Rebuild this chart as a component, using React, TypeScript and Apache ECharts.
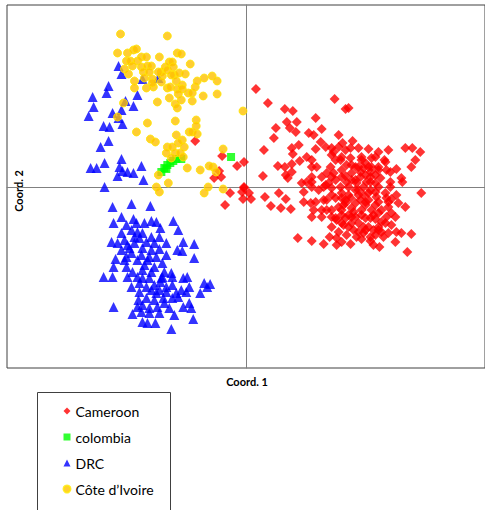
import React, { useEffect, useRef } from "react";
import * as echarts from "echarts";

// PCoA coordinates (arbitrary units, origin at the axes cross)
const seriesNames = ["Cameroon", "colombia", "DRC", "Côte d’Ivoire"];
const axisTitles = ["Coord. 1", "Coord. 2"];

const cameroon: number[][] = [
  [-51,46],[-24,31],[-9,21],[-2,25],[-27,16],[-25,10],[-32,9],[-2,0],[-16,-6],[-21,-18],
  [-2,-1],[3,-6],[-3,-12],[5,-12],[-4,-5],
  [10,98],[22,84],[39,78],[47,76],[41,65],[51,65],[44,59],[50,55],[30,59],[28,49],
  [18,37],[46,39],[53,42],[47,33],[54,26],[61,30],[66,27],[63,54],[68,52],[70,69],
  [32,21],[39,20],[40,12],[46,23],[46,15],[42,9],[17,11],[19,-10],[33,-6],[40,-12],
  [25,-19],[35,-21],[45,-22],[58,-5],[56,4],[61,5],[66,10],[58,-15],[65,-16],[66,-30],
  [52,-51],[66,-54],
  [89,88],[100,78],[103,79],[76,58],[93,52],[75,45],[97,44],[107,46],[70,38],[88,35],
  [113,39],[123,38],[133,35],[143,37],[160,39],[167,39],[175,35],[170,27],[166,20],[151,18],
  [156,9],[157,5],[176,-6],[139,27],[141,17],[135,9],[145,5],[86,32],[95,27],[105,29],
  [116,30],[126,29],[140,25],[66,20],[71,20],[66,5],[76,10],[83,4],[90,7],[96,10],
  [106,7],[115,10],[125,10],[133,0],[145,0],[151,-8],[160,-20],[153,-16],[68,-23],[78,-13],
  [86,-8],[96,-6],[103,-8],[113,-8],[123,-6],[131,-10],[141,-11],[100,-16],[110,-16],[120,-18],
  [130,-18],[143,-20],[76,-30],[86,-30],[96,-28],[106,-30],[116,-28],[125,-31],[141,-30],[146,-38],
  [86,-40],[96,-36],[103,-40],[113,-36],[123,-40],[133,-40],[136,-45],[151,-45],[156,-46],[166,-47],
  [101,-48],[111,-50],[125,-50],[130,-48],[118,-46],[78,-57],[91,-51],[91,-58],[105,-57],[134,-60],
  [162,-65],[125,-54],[143,-46],[66,0],[73,-3],[80,2],
  [103,0],[110,-3],[118,0],[125,-3],[95,0],[86,-1],[101,22],[110,20],[118,19],[126,20],
  [106,14],[115,15],[125,15],[130,12],[96,17],[88,14],[101,5],[111,4],[121,5],[130,4],
  [105,-11],[115,-13],[123,-13],[93,-20],[106,-21],[116,-23],[126,-23],[96,-11],[133,-26],[136,-35],
  [91,-33],[108,-43],[120,-43],[128,-43],[81,-23],[93,40],[86,39],[80,40],[105,39],[100,37],
  [120,24],[133,20],[78,0],[81,14],[85,20],[90,27],[96,30],[106,22],[116,27],[123,20],
  [130,30],[133,17],[86,10],[100,11],[110,7],[120,12],[125,5],[113,-3],[130,-5],[140,-6],
  [143,-15],[133,-15],[120,-15],[100,-13],[90,-11],[81,-13],[70,-15],[76,-23],[86,-23],[96,-23],
  [136,-23],[146,-26],[90,-31],[100,-31],[110,-30],[120,-31],[130,-32],[140,-36],[98,-38],[118,-40],
  [133,-43],[108,-25],[118,-8],[128,-28],[98,-18],[113,-45],[138,-50],[106,-36],[93,-45],[146,-12],
  [84,-50],[150,-30],[145,15],[113,20],[103,-28],[116,-52],[128,-58],[96,-55],[150,-55],
];

const colombia: number[][] = [
  [-85,15],[-82,19],[-79,22],[-76,24],[-73,26],[-70,28],[-65,28],[-80,18],[-15,30],
];

const drc: number[][] = [
  [-128,121],[-125,113],[-138,101],[-140,94],[-154,90],[-153,80],[-158,71],[-134,74],[-125,77],[-121,86],
  [-113,81],[-109,92],[-128,69],[-124,63],[-143,61],[-137,60],[-138,46],[-146,40],[-88,109],[-104,108],
  [-156,19],[-150,19],[-142,24],[-125,28],[-127,20],[-124,16],[-129,11],[-119,15],[-113,14],[-105,21],
  [-103,7],[-142,0],
  [-134,-20],[-115,-17],[-96,-19],[-125,-30],[-113,-32],[-133,-36],[-120,-38],[-110,-36],[-102,-36],[-95,-34],
  [-90,-35],[-73,-34],[-86,-41],[-68,-43],[-125,-46],[-115,-43],[-109,-45],[-104,-46],[-95,-50],[-87,-50],
  [-107,-51],[-122,-53],[-135,-55],[-129,-56],[-119,-58],[-112,-56],[-100,-55],[-92,-56],[-80,-56],[-63,-55],
  [-52,-57],[-69,-63],[-64,-64],[-125,-63],[-117,-61],[-104,-61],[-95,-63],[-87,-62],[-80,-68],[-120,-70],
  [-109,-73],[-99,-73],[-90,-70],[-84,-76],[-52,-71],[-131,-72],[-133,-80],[-120,-80],[-114,-85],[-104,-83],
  [-95,-85],[-82,-85],[-75,-86],[-143,-90],[-134,-90],[-119,-90],[-109,-90],[-104,-91],[-97,-91],[-85,-91],
  [-74,-90],[-63,-91],[-59,-90],[-115,-100],[-107,-96],[-100,-100],[-92,-98],[-86,-95],[-80,-100],[-74,-98],
  [-65,-103],[-57,-100],[-42,-96],[-36,-97],[-39,-100],[-46,-106],[-107,-105],[-95,-103],[-87,-103],[-80,-105],
  [-70,-106],[-60,-105],[-108,-113],[-100,-111],[-92,-113],[-83,-111],[-74,-111],[-68,-110],[-57,-116],[-63,-120],
  [-55,-121],[-133,-120],[-109,-120],[-104,-118],[-97,-121],[-89,-120],[-77,-121],[-114,-127],[-105,-125],[-97,-126],
  [-87,-126],[-72,-128],[-104,-135],[-99,-136],[-91,-136],[-53,-132],[-75,-142],[-112,-50],[-115,-66],[-105,-68],
  [-97,-70],[-122,-73],[-84,-90],[-90,-106],[-82,-116],[-102,-78],[-92,-80],
];

const coteIvoire: number[][] = [
  [-126,153],[-79,151],[-129,134],[-119,134],[-113,137],[-110,138],[-120,126],[-116,126],[-109,126],[-105,130],
  [-100,130],[-87,130],[-69,134],[-65,133],[-56,123],[-114,121],[-122,118],[-118,113],[-105,120],[-99,121],
  [-95,121],[-103,115],[-97,115],[-102,109],[-94,108],[-85,115],[-81,120],[-77,125],[-74,125],[-79,117],
  [-73,120],[-72,112],[-75,112],[-67,114],[-61,113],[-84,111],[-88,115],[-85,105],[-79,99],[-76,100],
  [-70,106],[-64,102],[-69,98],[-64,98],[-68,93],[-58,94],[-54,94],[-51,100],[-49,106],[-42,109],
  [-34,111],[-29,106],[-43,91],[-29,93],[-54,86],[-65,87],[-77,89],[-89,85],[-71,83],[-69,79],
  [-112,106],[-100,99],[-93,100],[-112,99],[-3,76],[-123,84],[-129,70],[-99,64],[-71,66],[-50,67],
  [-94,104],[-110,55],[-70,52],[-50,61],[-57,55],[-54,55],[-49,53],[-96,48],[-91,45],[-64,47],
  [-68,44],[-79,40],[-74,40],[-62,40],[-80,34],[-71,34],[-66,34],[-63,30],[-75,29],[-59,19],
  [-46,17],[-23,38],[-33,20],[-30,15],[-37,21],[-88,12],[-78,4],[-90,0],[-87,-5],[-38,0],
  [-42,-6],[-23,-2],
];

const FONT = "Lato, 'Open Sans', sans-serif";

export default function App() {
  const ref = useRef<HTMLDivElement>(null);
  useEffect(() => {
    if (!ref.current) return;
    const chart = echarts.init(ref.current, undefined, { renderer: "svg" });
    const axisCommon = {
      type: "value" as const,
      axisLine: { show: true, onZero: true, lineStyle: { color: "#808080", width: 1 } },
      axisTick: { show: false },
      axisLabel: { show: false },
      splitLine: { show: false },
    };
    chart.setOption({
      animation: false,
      backgroundColor: "#ffffff",
      grid: {
        left: 7,
        top: 5,
        width: 480,
        height: 363,
        show: true,
        borderColor: "#404040",
        borderWidth: 1,
        backgroundColor: "transparent",
      },
      xAxis: { ...axisCommon, min: -240, max: 240 },
      yAxis: { ...axisCommon, min: -181, max: 182 },
      legend: {
        orient: "vertical",
        left: 62.5,
        top: 403,
        padding: 0,
        itemWidth: 7,
        itemHeight: 7,
        itemGap: 10,
        textStyle: { fontFamily: FONT, fontSize: 14, color: "#000", lineHeight: 16 },
        data: seriesNames,
      },
      graphic: [
        {
          type: "rect",
          shape: { x: 37.5, y: 392.5, width: 133, height: 140 },
          style: { fill: "none", stroke: "#404040", lineWidth: 1 },
          z: 1,
        },
        {
          type: "text",
          x: 247,
          y: 381,
          style: {
            text: axisTitles[0],
            fontFamily: FONT,
            fontSize: 11,
            fontWeight: "bold",
            fill: "#000",
            align: "center",
            verticalAlign: "middle",
          },
        },
        {
          type: "text",
          x: 18,
          y: 191,
          rotation: Math.PI / 2,
          style: {
            text: axisTitles[1],
            fontFamily: FONT,
            fontSize: 11,
            fontWeight: "bold",
            fill: "#000",
            align: "center",
            verticalAlign: "middle",
          },
        },
      ],
      series: [
        {
          name: seriesNames[0],
          type: "scatter",
          symbol: "diamond",
          symbolSize: 10,
          itemStyle: { color: "#FF0000" },
          data: cameroon,
        },
        {
          name: seriesNames[1],
          type: "scatter",
          symbol: "rect",
          symbolSize: 8,
          itemStyle: { color: "#00FF00" },
          data: colombia,
        },
        {
          name: seriesNames[2],
          type: "scatter",
          symbol: "triangle",
          symbolSize: 10,
          itemStyle: { color: "#0000FF" },
          data: drc,
        },
        {
          name: seriesNames[3],
          type: "scatter",
          symbol: "circle",
          symbolSize: 8,
          itemStyle: { color: "#FFC000", borderColor: "#FFE600", borderWidth: 1 },
          data: coteIvoire,
        },
      ],
    });
    return () => chart.dispose();
  }, []);
  return (
    <div
      ref={ref}
      style={{ position: "fixed", left: 0, top: 0, width: 485, height: 510 }}
    />
  );
}
